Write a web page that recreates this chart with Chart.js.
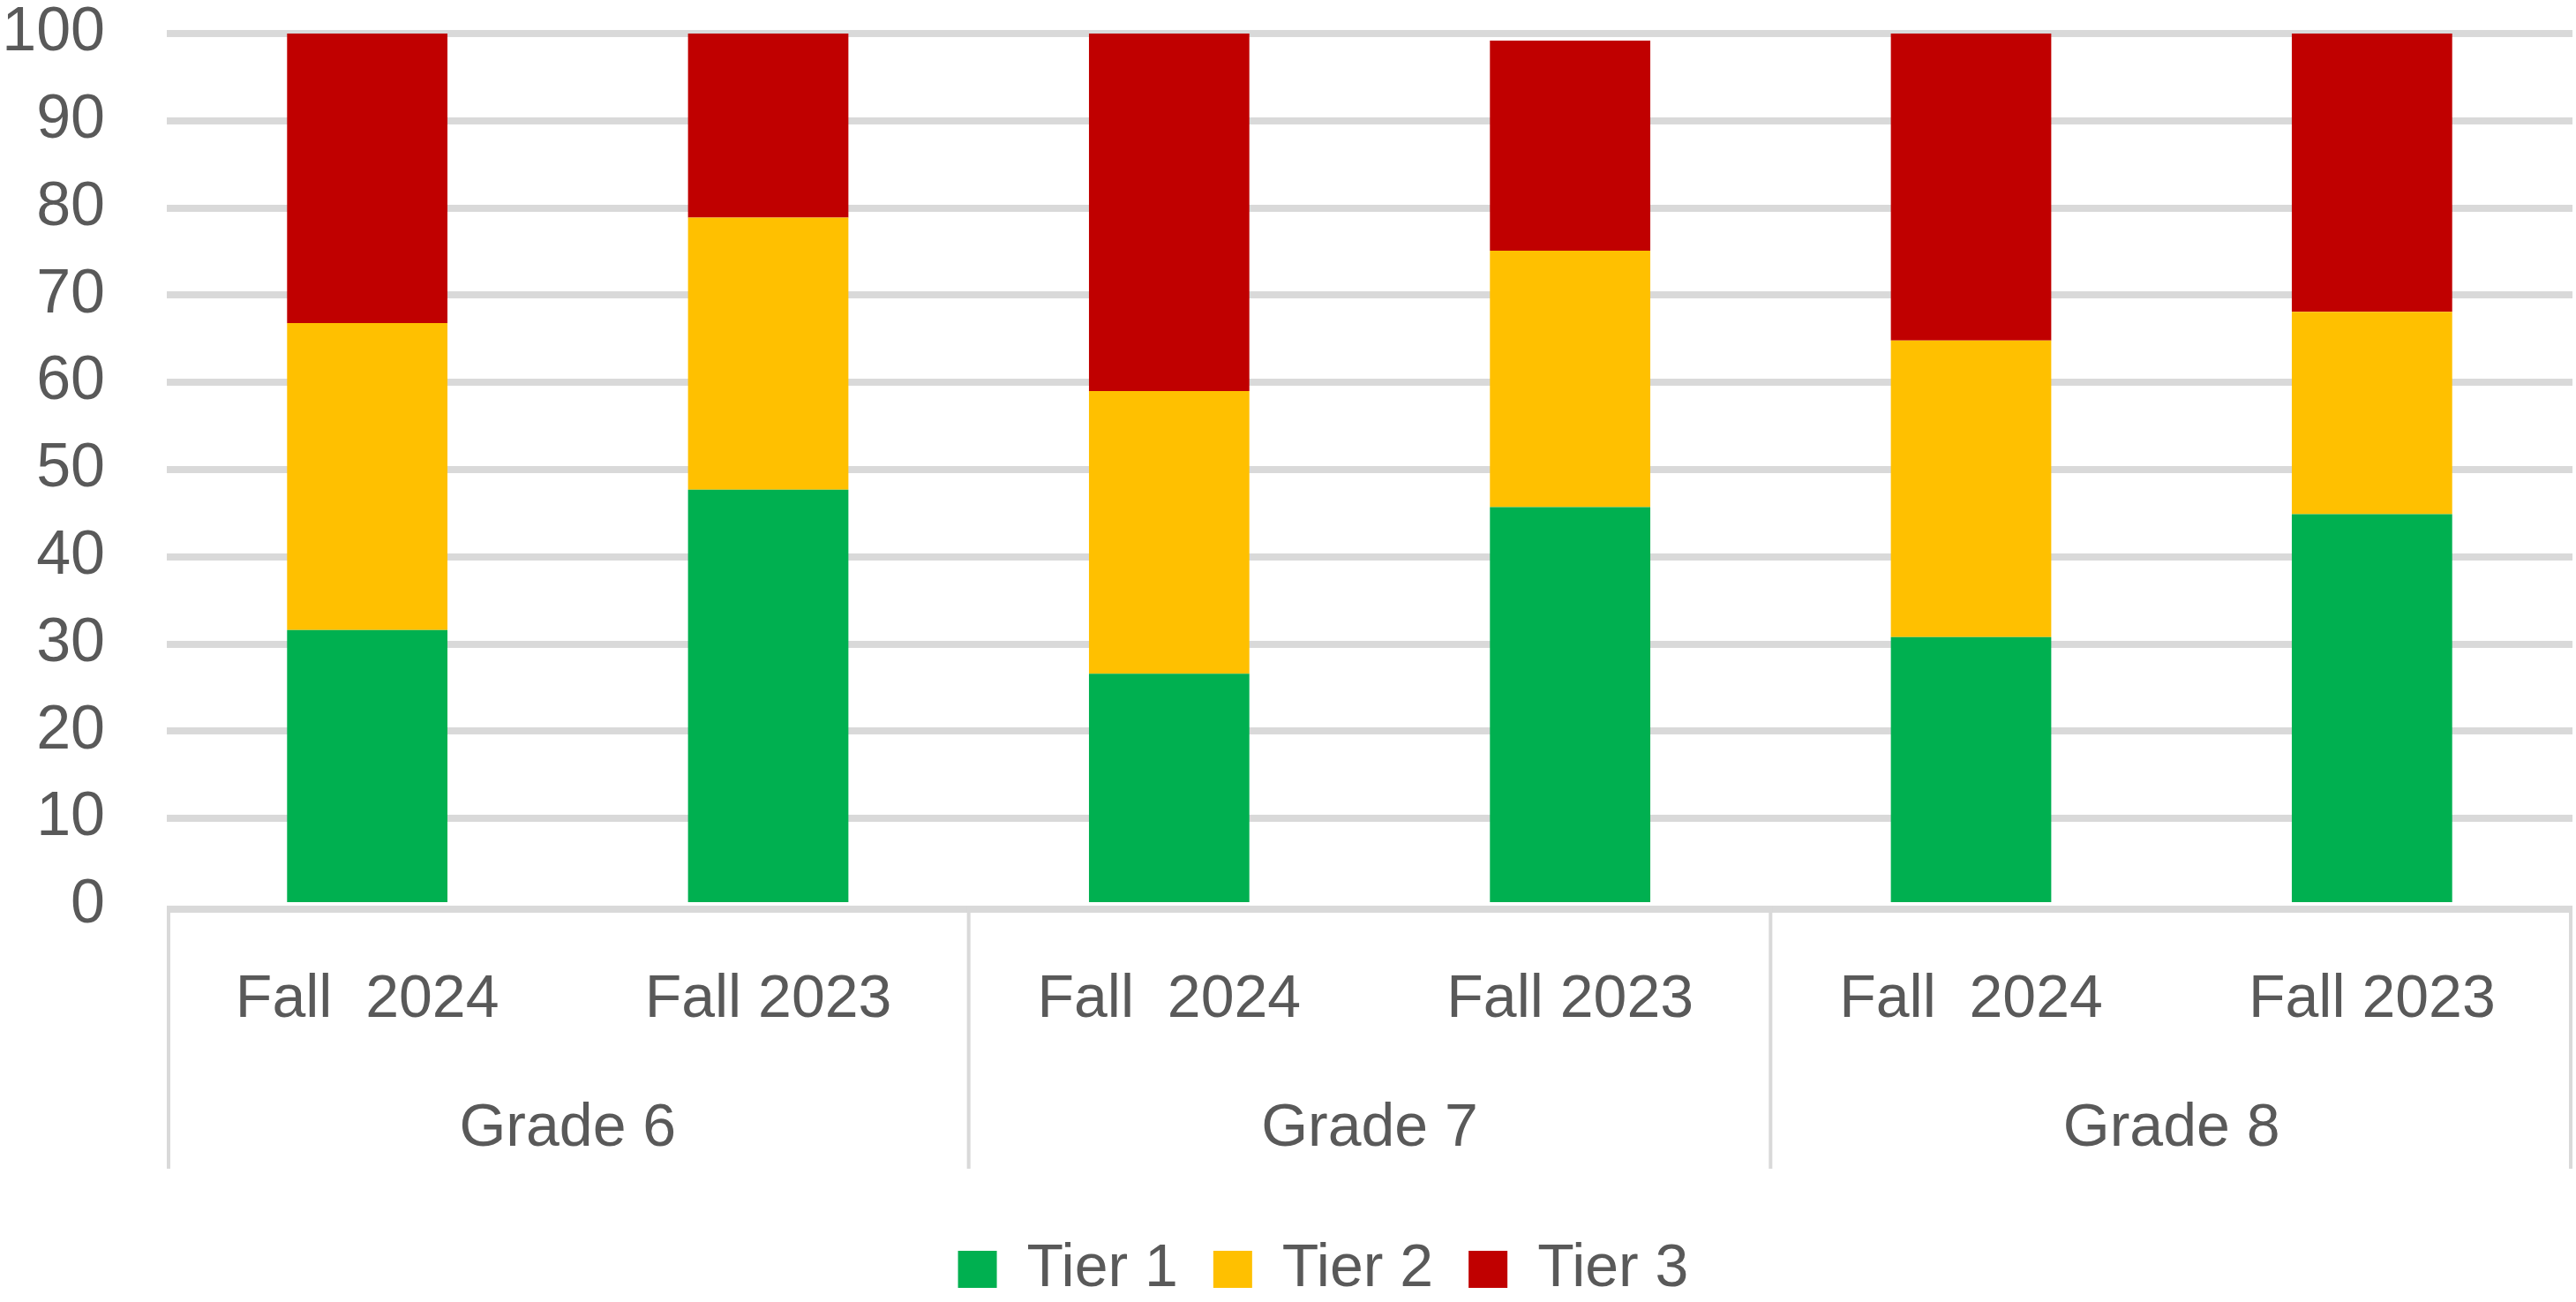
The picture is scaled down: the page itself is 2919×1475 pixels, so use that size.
<!DOCTYPE html>
<html>
<head>
<meta charset="utf-8">
<script src="https://cdn.jsdelivr.net/npm/chart.js@4.4.1/dist/chart.umd.min.js"></script>
<style>
  html, body { margin: 0; padding: 0; background: #ffffff; overflow: hidden; }
  #wrap { width: 2919px; height: 1475px; }
</style>
</head>
<body>
<div id="wrap"><canvas id="c" width="2919" height="1475"></canvas></div>
<script>
// ---- data ----
const periods = ['Fall  2024', 'Fall 2023', 'Fall  2024', 'Fall 2023', 'Fall  2024', 'Fall 2023'];
const grades = ['Grade 6', 'Grade 7', 'Grade 8'];
const tier1 = [31.6, 47.7, 26.6, 45.7, 30.8, 44.9];
const tier2 = [35.2, 31.2, 32.4, 29.4, 34.0, 23.2];
const tier3 = [33.2, 21.5, 41.0, 24.1, 35.2, 31.9];
const seriesNames = ['Tier 1', 'Tier 2', 'Tier 3'];
const yMin = 0, yMax = 100, yStep = 10;

// ---- styles ----
const textColor = '#595959';
const gridColor = '#d9d9d9';
const FONT = "'Liberation Sans', Arial, sans-serif";

const groupLines = {
  id: 'groupLines',
  afterLayout(chart) {
    // nudge the legend to sit where the original places it
    const lg = chart.legend;
    if (lg) { lg.left += 42; lg.right += 42; lg.top += 7; lg.bottom += 7; }
  },
  beforeDatasetsDraw(chart) {
    const ctx = chart.ctx, a = chart.chartArea;
    ctx.save();
    ctx.fillStyle = gridColor;
    ctx.fillRect(a.left, a.bottom, a.right - a.left, 8);
    ctx.restore();
  },
  afterDraw(chart) {
    const ctx = chart.ctx, a = chart.chartArea;
    const x = chart.scales.x, x2 = chart.scales.x2;
    const yTop = a.bottom;
    const yBot = x2.top + 118;
    ctx.save();
    ctx.fillStyle = gridColor;
    const n = grades.length;
    for (let g = 0; g <= n; g++) {
      let px = x.left + g * (x.right - x.left) / n;
      let lx = px - 2;
      if (g === 0) lx = px;
      if (g === n) lx = px - 4;
      ctx.fillRect(lx, yTop, 4, yBot - yTop);
    }
    ctx.restore();
  }
};

new Chart(document.getElementById('c'), {
  type: 'bar',
  data: {
    labels: periods,
    datasets: [
      { label: seriesNames[0], data: tier1, backgroundColor: '#00B050' },
      { label: seriesNames[1], data: tier2, backgroundColor: '#FFC000' },
      { label: seriesNames[2], data: tier3, backgroundColor: '#C00000' }
    ]
  },
  options: {
    responsive: false,
    animation: false,
    devicePixelRatio: 1,
    datasets: { bar: { categoryPercentage: 1.0, barPercentage: 0.4, borderWidth: 0 } },
    layout: { padding: { left: 0, right: 4, top: 38, bottom: 0 } },
    plugins: {
      title: { display: false },
      tooltip: { enabled: false },
      legend: {
        position: 'bottom',
        labels: {
          boxWidth: 44, boxHeight: 42, padding: 40,
          color: textColor,
          font: { family: FONT, size: 68 }
        }
      }
    },
    scales: {
      x: {
        stacked: true,
        weight: 1,
        grid: { display: false, drawTicks: false },
        border: { display: false },
        ticks: { color: textColor, font: { family: FONT, size: 68 }, padding: 66, maxRotation: 0, autoSkip: false },
        afterFit: (s) => { s.height = 180; }
      },
      x2: {
        type: 'category',
        position: 'bottom',
        labels: grades,
        offset: true,
        weight: 2,
        grid: { display: false, drawTicks: false },
        border: { display: false },
        ticks: { color: textColor, font: { family: FONT, size: 68 }, padding: 32, maxRotation: 0, autoSkip: false },
        afterFit: (s) => { s.height = 151; }
      },
      y: {
        stacked: true,
        min: yMin, max: yMax,
        grid: {
          color: (c) => (c.tick && c.tick.value === 0) ? 'rgba(0,0,0,0)' : gridColor,
          lineWidth: 8,
          drawTicks: true,
          tickLength: 70,
          tickColor: 'rgba(0,0,0,0)'
        },
        border: { display: false },
        ticks: { stepSize: yStep, color: textColor, font: { family: FONT, size: 70, lineHeight: 1 }, padding: 0 },
        afterFit: (s) => { s.width = 189; }
      }
    }
  },
  plugins: [groupLines]
});
</script>
</body>
</html>
